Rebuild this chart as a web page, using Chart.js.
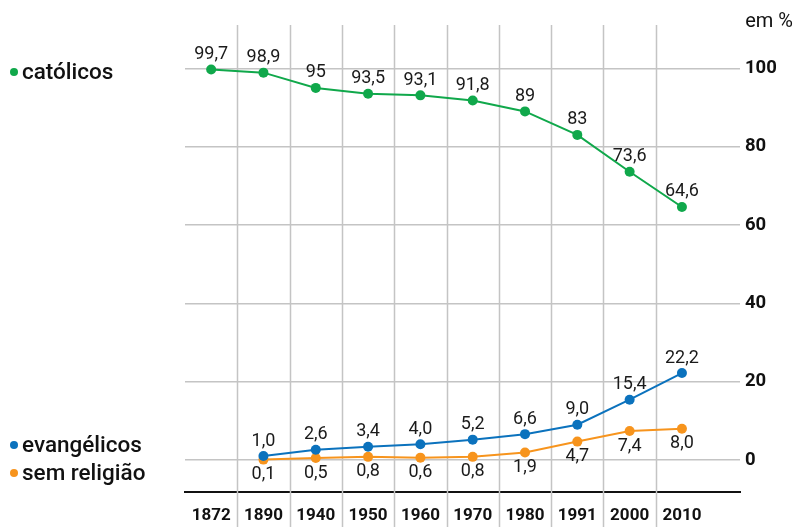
<!DOCTYPE html>
<html>
<head>
<meta charset="utf-8">
<script src="https://cdn.jsdelivr.net/npm/chart.js@4/dist/chart.umd.min.js"></script>
<style>
  html, body { margin: 0; padding: 0; background: #fff; }
  #wrap { position: relative; width: 794px; height: 527px; font-family: Roboto, sans-serif; color: #111; }
  #chart { position: absolute; left: 0; top: 0; }
  .leg { position: absolute; left: 10px; font-size: 22.5px; line-height: 26px; white-space: nowrap; font-weight: 500; }
  .leg i { display: inline-block; width: 8px; height: 8px; border-radius: 50%; margin-right: 4px; vertical-align: 3px; }
  #unit { position: absolute; right: 1px; top: 7px; font-size: 20px; line-height: 26px; }
</style>
</head>
<body>
<div id="wrap">
  <canvas id="chart" width="794" height="527"></canvas>
  <div class="leg" style="top:58px"><i style="background:#10a84b"></i>católicos</div>
  <div class="leg" style="top:431px"><i style="background:#0b72bd"></i>evangélicos</div>
  <div class="leg" style="top:459px"><i style="background:#f7941d"></i>sem religião</div>
  <div id="unit">em %</div>
</div>
<script>
document.addEventListener('DOMContentLoaded', () => {

  // census years and shares of the population (%)
  const years = ['1872', '1890', '1940', '1950', '1960', '1970', '1980', '1991', '2000', '2010'];
  const catolicos = [99.7, 98.9, 95, 93.5, 93.1, 91.8, 89, 83, 73.6, 64.6];
  const evangelicos = [null, 1.0, 2.6, 3.4, 4.0, 5.2, 6.6, 9.0, 15.4, 22.2];
  const semReligiao = [null, 0.1, 0.5, 0.8, 0.6, 0.8, 1.9, 4.7, 7.4, 8.0];
  const yTicks = [0, 20, 40, 60, 80, 100];

  const GREEN = '#10a84b';
  const BLUE = '#0b72bd';
  const ORANGE = '#f7941d';

  function toPoints(arr) {
    return arr.map((v, i) => ({x: i, y: v}));
  }

  // vertical column separators, they run past the baseline down to the bottom
  const columnLines = {
    id: 'columnLines',
    beforeDatasetsDraw(chart) {
      const {ctx, chartArea, scales: {x}} = chart;
      ctx.save();
      ctx.strokeStyle = '#c4c4c4';
      ctx.lineWidth = 1.5;
      for (let i = 0; i < years.length - 1; i++) {
        const px = Math.round(x.getPixelForValue(i + 0.5)) + 0.5;
        ctx.beginPath();
        ctx.moveTo(px, chartArea.top);
        ctx.lineTo(px, chart.height);
        ctx.stroke();
      }
      ctx.restore();
    }
  };

  // value labels next to each point
  const valueLabels = {
    id: 'valueLabels',
    afterDatasetsDraw(chart) {
      const ctx = chart.ctx;
      ctx.save();
      ctx.font = '18px Roboto, sans-serif';
      ctx.fillStyle = '#1a1a1a';
      ctx.textAlign = 'center';
      chart.data.datasets.forEach((ds, di) => {
        const meta = chart.getDatasetMeta(di);
        ds.data.forEach((p, i) => {
          if (p.y === null) return;
          const el = meta.data[i];
          let txt = di === 0 ? String(p.y) : p.y.toFixed(1);
          txt = txt.replace('.', ',');
          if (ds.labelBelow) {
            ctx.textBaseline = 'top';
            ctx.fillText(txt, el.x, el.y + 6);
          } else {
            ctx.textBaseline = 'bottom';
            ctx.fillText(txt, el.x, el.y - 6);
          }
        });
      });
      ctx.restore();
    }
  };

  const lineStyle = (color) => ({
    borderColor: color,
    backgroundColor: color,
    pointBackgroundColor: color,
    pointBorderWidth: 0,
    pointRadius: 5,
    borderWidth: 2,
    tension: 0,
    spanGaps: false
  });

  const config = {
    type: 'line',
    data: {
      datasets: [
        Object.assign({label: 'católicos', data: toPoints(catolicos)}, lineStyle(GREEN)),
        Object.assign({label: 'evangélicos', data: toPoints(evangelicos)}, lineStyle(BLUE)),
        Object.assign({label: 'sem religião', data: toPoints(semReligiao), labelBelow: true}, lineStyle(ORANGE))
      ]
    },
    options: {
      responsive: false,
      animation: false,
      layout: { padding: { left: 185, top: 25, right: 0, bottom: 0 } },
      plugins: {
        legend: { display: false },
        tooltip: { enabled: false }
      },
      scales: {
        x: {
          type: 'linear',
          min: -0.5,
          max: 10.11,
          afterBuildTicks: (axis) => { axis.ticks = years.map((y, i) => ({value: i})); },
          afterFit: (axis) => { axis.height = 35; },
          grid: { display: false, drawTicks: false },
          border: { display: true, color: '#111', width: 2 },
          ticks: {
            padding: 14,
            autoSkip: false,
            maxRotation: 0,
            color: '#111',
            font: { family: 'Roboto, sans-serif', size: 17, weight: 'bold' },
            callback: (v) => years[v]
          }
        },
        y: {
          position: 'right',
          min: -8.17,
          max: 111.06,
          afterBuildTicks: (axis) => { axis.ticks = yTicks.map(v => ({value: v})); },
          afterFit: (axis) => { axis.width = 54; },
          grid: { color: '#c4c4c4', lineWidth: 1.5, drawTicks: false },
          border: { display: false },
          ticks: {
            padding: 5,
            color: '#111',
            font: { family: 'Roboto, sans-serif', size: 18.5, weight: 'bold' }
          }
        }
      }
    },
    plugins: [columnLines, valueLabels]
  };

  new Chart(document.getElementById('chart'), config);
});
</script>
</body>
</html>
